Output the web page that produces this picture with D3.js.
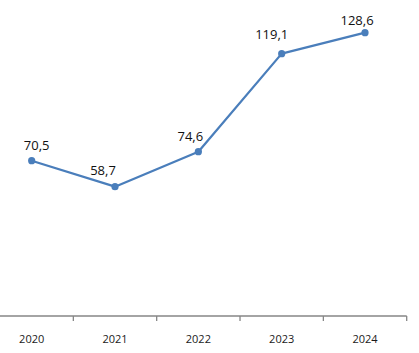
<!DOCTYPE html>
<html>
<head>
<meta charset="utf-8">
<script src="https://cdn.jsdelivr.net/npm/d3@7"></script>
<style>
  body { margin: 0; background: #fff; }
  text { font-family: "Open Sans", "Noto Sans", sans-serif; }
</style>
</head>
<body>
<div id="chart"></div>
<script>
var years = ['2020', '2021', '2022', '2023', '2024'];
var values = [70.5, 58.7, 74.6, 119.1, 128.6];
// manual label nudges (dx, dy from the point) as in the source chart
var labelDx = [5, -12, -8, -10, -8];
var labelDy = [-11, -12, -11, -15, -8];

var svgWidth = 419, svgHeight = 353;
var axisY = 316;

var svg = d3.select('#chart')
    .append('svg')
    .attr('width', svgWidth)
    .attr('height', svgHeight);

var xScale = d3.scaleBand()
    .domain(years).range([-10, 406.7]);

var yScale = d3.scaleLinear()
    .domain([0, 140]).range([axisY, 7.6]);

var fmt = function (v) { return d3.format('.1f')(v).replace('.', ','); };

// x axis: line + ticks between categories
var xAxis = d3.axisBottom(xScale).tickSize(0).tickPadding(19);
var gx = svg.append('g')
    .attr('transform', 'translate(0,' + axisY + ')')
    .call(xAxis);
gx.select('.domain').remove();
gx.selectAll('text')
    .attr('font-size', 11)
    .attr('fill', '#1a1a1a')
    .style('font-family', '"Open Sans", sans-serif');

svg.append('line')
    .attr('x1', 0).attr('x2', xScale.range()[1])
    .attr('y1', axisY).attr('y2', axisY)
    .attr('stroke', '#868686').attr('stroke-width', 1.3);

var bounds = years.map(function (d) { return xScale(d) + xScale.step(); });
svg.selectAll('.tk')
    .data(bounds)
    .enter()
    .append('line')
    .attr('x1', function (d) { return d; })
    .attr('x2', function (d) { return d; })
    .attr('y1', axisY).attr('y2', axisY + 5)
    .attr('stroke', '#868686').attr('stroke-width', 1.3);

var cx = function (d, i) { return xScale(years[i]) + xScale.bandwidth() / 2; };

var line = d3.line()
    .x(function (d, i) { return cx(d, i); })
    .y(function (d) { return yScale(d); });

svg.append('path')
    .datum(values)
    .attr('d', line)
    .attr('fill', 'none')
    .attr('stroke', '#4a7ebb')
    .attr('stroke-width', 2.25)
    .attr('stroke-linejoin', 'round');

svg.selectAll('.dot')
    .data(values)
    .enter()
    .append('circle')
    .attr('r', 3.6)
    .attr('fill', '#4a7ebb')
    .attr('cx', cx)
    .attr('cy', function (d) { return yScale(d); });

svg.selectAll('.lbl')
    .data(values)
    .enter()
    .append('text')
    .attr('x', function (d, i) { return cx(d, i) + labelDx[i]; })
    .attr('y', function (d, i) { return yScale(d) + labelDy[i]; })
    .attr('text-anchor', 'middle')
    .attr('font-size', 13)
    .attr('fill', '#111')
    .text(fmt);
</script>
</body>
</html>
